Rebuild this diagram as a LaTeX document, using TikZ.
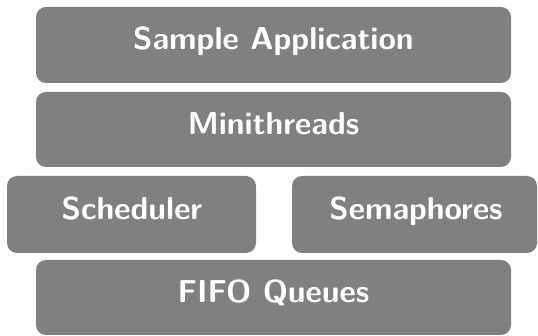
\documentclass[tikz,border=0pt]{standalone}
\begin{document}
\begin{tikzpicture}[x=1pt,y=-1pt,
  layer/.style={fill=black!50, rounded corners=10pt},
  lbl/.style={text=white, font=\sffamily\bfseries\fontsize{31.7}{36}\selectfont,
    inner sep=0pt, anchor=base}]
  \useasboundingbox (0,0) rectangle (538,336);
  % stack of layers
  \fill[layer] (36,7) rectangle (511,83);
  \fill[layer] (36,92) rectangle (511,167);
  \fill[layer] (7,176) rectangle (256,253);
  \fill[layer] (292,176) rectangle (537,253);
  \fill[layer] (36,260) rectangle (511,335);
  \node[lbl] (app) at (273.5,49.5) {Sample Application};
  \node[lbl] (mt) at (273.5,134.5) {Minithreads};
  \node[lbl] (sched) at (132,219.5) {Scheduler};
  \node[lbl] (sem) at (416,219.5) {Semaphores};
  \node[lbl] (fifo) at (273.5,303) {FIFO Queues};
\end{tikzpicture}
\end{document}
